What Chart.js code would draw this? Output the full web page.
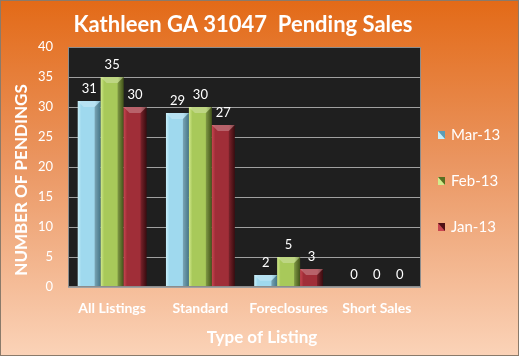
<!DOCTYPE html>
<html><head><meta charset="utf-8">
<script src="https://cdn.jsdelivr.net/npm/chart.js@4/dist/chart.umd.min.js"></script>
<style>html,body{margin:0;padding:0;background:#fff}#wrap{width:519px;height:356px;position:relative}</style>
</head><body><div id="wrap"><canvas id="c" width="519" height="356"></canvas></div>
<script>
const categories = ["All Listings", "Standard", "Foreclosures", "Short Sales"];
const seriesNames = ["Mar-13", "Feb-13", "Jan-13"];
const mar13 = [31, 29, 2, 0];
const feb13 = [35, 30, 5, 0];
const jan13 = [30, 27, 3, 0];
const yTicks = [0, 5, 10, 15, 20, 25, 30, 35, 40];
const chartTitle = "Kathleen GA 31047  Pending Sales";
const xTitle = "Type of Listing";
const yTitle = "NUMBER OF PENDINGS";

const palettes = [
  ["#c8f0fa", "#9fd9ee", "#5c9db5"],
  ["#d2ea8c", "#a8c95a", "#586f22"],
  ["#c84650", "#a02e38", "#4e1015"]
];
const FONT = "Lato, 'Open Sans', sans-serif";

const bgPlugin = {
  id: 'bg',
  beforeDraw(chart) {
    const {ctx, width, height, chartArea: a} = chart;
    ctx.save();
    const g = ctx.createLinearGradient(0, 0, 0, height);
    g.addColorStop(0, "#e36a17");
    g.addColorStop(0.45, "#ea9560");
    g.addColorStop(1, "#fbd3b8");
    ctx.fillStyle = g;
    ctx.fillRect(0, 0, width, height);
    ctx.strokeStyle = "#8a7a6a";
    ctx.lineWidth = 1;
    ctx.strokeRect(0.5, 0.5, width - 1, height - 1);
    ctx.fillStyle = "#1f1f1f";
    ctx.fillRect(a.left, a.top, a.right - a.left, a.bottom - a.top);
    ctx.restore();
  },
  afterDatasetsDraw(chart) {
    const {ctx, chartArea: a} = chart;
    ctx.save();
    chart.data.datasets.forEach((ds, i) => {
      const meta = chart.getDatasetMeta(i);
      meta.data.forEach((bar, j) => {
        const v = ds.data[j];
        const w = bar.width, x0 = bar.x - w / 2, x1 = bar.x + w / 2;
        const top = bar.y, bot = bar.base;
        if (v > 0) {
          const p = palettes[i];
          const g = ctx.createLinearGradient(x0, 0, x1, 0);
          g.addColorStop(0, p[0]);
          g.addColorStop(0.15, p[1]);
          g.addColorStop(0.75, p[1]);
          g.addColorStop(1, p[2]);
          ctx.fillStyle = g;
          ctx.fillRect(x0, top, w, bot - top);
          const bev = Math.min(6, (bot - top) / 2);
          ctx.fillStyle = "rgba(255,255,255,0.25)";
          ctx.beginPath();
          ctx.moveTo(x0, top); ctx.lineTo(x1, top); ctx.lineTo(x1 - bev, top + bev); ctx.lineTo(x0 + bev, top + bev); ctx.closePath();
          ctx.fill();
          ctx.fillStyle = "rgba(0,0,0,0.25)";
          ctx.beginPath();
          ctx.moveTo(x1, top); ctx.lineTo(x1, bot); ctx.lineTo(x1 - bev, bot); ctx.lineTo(x1 - bev, top + bev); ctx.closePath();
          ctx.fill();
        }
        ctx.fillStyle = "#ffffff";
        ctx.font = "13px " + FONT;
        ctx.textAlign = "center";
        ctx.textBaseline = "bottom";
        ctx.fillText(String(v), bar.x, top - 6);
      });
    });
    // legend
    const ly = [135, 181, 227];
    seriesNames.forEach((n, i) => {
      const p = palettes[i];
      const y = ly[i];
      ctx.fillStyle = p[2];
      ctx.fillRect(438, y - 4, 7, 8);
      ctx.fillStyle = p[0];
      ctx.beginPath(); ctx.moveTo(438, y - 4); ctx.lineTo(445, y + 4); ctx.lineTo(438, y + 4); ctx.closePath(); ctx.fill();
      ctx.fillStyle = "#ffffff";
      ctx.font = "15px " + FONT;
      ctx.textAlign = "left";
      ctx.textBaseline = "middle";
      ctx.fillText(n, 451, y);
    });
    ctx.strokeStyle = "#8c8c8c";
    ctx.lineWidth = 1;
    ctx.strokeRect(a.left + 0.5, a.top + 0.5, a.right - a.left - 1, a.bottom - a.top - 1);
    // titles
    ctx.fillStyle = "#ffffff";
    ctx.textAlign = "center";
    ctx.textBaseline = "middle";
    ctx.font = "bold 22px " + FONT;
    ctx.fillText(chartTitle, 243, 25);
    ctx.font = "bold 17px " + FONT;
    ctx.fillText(xTitle, 262, 338);
    ctx.translate(22, 180);
    ctx.rotate(-Math.PI / 2);
    ctx.fillText(yTitle, 0, 0);
    ctx.restore();
  }
};

new Chart(document.getElementById('c'), {
  type: 'bar',
  data: {
    labels: categories,
    datasets: [
      {label: seriesNames[0], data: mar13, backgroundColor: "rgba(0,0,0,0)"},
      {label: seriesNames[1], data: feb13, backgroundColor: "rgba(0,0,0,0)"},
      {label: seriesNames[2], data: jan13, backgroundColor: "rgba(0,0,0,0)"}
    ]
  },
  options: {
    responsive: false,
    animation: false,
    devicePixelRatio: 1,
    layout: {padding: {left: 0, right: 98, top: 47, bottom: 0}},
    datasets: {bar: {categoryPercentage: 0.78, barPercentage: 1.0}},
    plugins: {
      legend: {display: false},
      tooltip: {enabled: false},
      title: {display: false}
    },
    scales: {
      x: {
        grid: {display: false, drawTicks: false},
        border: {display: false},
        ticks: {color: "#ffffff", font: {family: FONT, size: 14, weight: 'bold'}, padding: 13},
        afterFit(s) { s.height = 69; }
      },
      y: {
        min: 0, max: 40,
        afterBuildTicks(s) { s.ticks = yTicks.map(v => ({value: v})); },
        grid: {color: "#a0a0a0", drawTicks: false},
        border: {display: false},
        ticks: {color: "#ffffff", font: {family: FONT, size: 13}, padding: 15},
        afterFit(s) { s.width = 68; }
      }
    }
  },
  plugins: [bgPlugin]
});
</script></body></html>
